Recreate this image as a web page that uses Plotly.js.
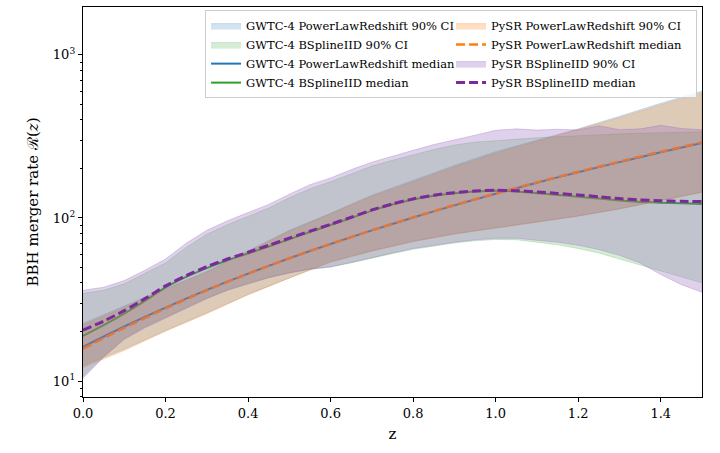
<!DOCTYPE html>
<html>
<head>
<meta charset="utf-8">
<script src="https://cdn.plot.ly/plotly-3.0.1.min.js"></script>
<style>
  html, body { margin: 0; padding: 0; background: #fff; }
  #chart { width: 720px; height: 453px; }
</style>
</head>
<body>
<div id="chart"></div>
<script>
// redshift grids
const zCoarse = [0.0, 0.1, 0.2, 0.3, 0.4, 0.5, 0.6, 0.7, 0.8, 0.9, 1.0, 1.1, 1.2, 1.3, 1.4, 1.5];
const zFine = [0.0, 0.05, 0.1, 0.15, 0.2, 0.25, 0.3, 0.35, 0.4, 0.45, 0.5, 0.55, 0.6, 0.65, 0.7, 0.75,
               0.8, 0.85, 0.9, 0.95, 1.0, 1.05, 1.1, 1.15, 1.2, 1.25, 1.3, 1.35, 1.4, 1.45, 1.5];

// GWTC-4 PowerLawRedshift (on zCoarse)
const gwtcPlLow = [12.4, 15.7, 20.4, 26.2, 34.0, 43.0, 54, 63, 72, 80, 87.5, 95, 103, 114, 128, 144.5];
const gwtcPlHigh = [22.5, 29, 37, 47, 63, 84, 107, 138, 170, 210, 255, 300, 352, 420, 505, 600];
const gwtcPlMed = [16.2, 21.6, 28.2, 36.2, 45.6, 56.6, 69.3, 83.9, 100.6, 119.5, 140.8, 164.6, 191, 220, 253, 288];

// PySR PowerLawRedshift (on zCoarse)
const pysrPlLow = [12.1, 15.4, 20.2, 25.9, 33.8, 42.8, 53.5, 62.5, 71.5, 79.5, 87, 94.5, 102.5, 113.5, 127.5, 143.5];
const pysrPlHigh = [22, 28.5, 36.5, 46.5, 62, 83, 106, 136, 167, 206, 250, 295, 346, 412, 495, 585];
const pysrPlMed = [15.8, 21.2, 27.9, 36.0, 45.5, 56.6, 69.4, 84.1, 100.9, 120, 141.4, 165.3, 192, 221.5, 255, 291];

// GWTC-4 BSplineIID (on zFine)
const gwtcBsLow = [10.7, 14.2, 18.2, 21.5, 24.8, 28.3, 32.3, 36.2, 39.8, 43.2, 46.2, 48.5, 50.2, 53, 56.5, 60.5,
                   64.2, 67.5, 70.3, 72.5, 73.8, 73.5, 71, 68.5, 65, 61, 56, 51, 47, 43.5, 40];
const gwtcBsHigh = [34.5, 36, 39.5, 45.5, 53, 66, 79.5, 91, 102.5, 115, 133, 151, 167, 187, 208, 226,
                    244, 263, 280, 292, 298, 305, 310, 315, 320, 325, 328, 331, 334, 336, 338];
const gwtcBsMed = [18.9, 22.0, 25.9, 31.0, 37.5, 43.5, 49.3, 55.0, 60.5, 66.8, 74.0, 82.0, 90.5, 100, 111, 121,
                   130, 137, 142, 145.5, 147, 145.5, 142, 138.5, 135, 131.5, 128, 125.5, 124, 123, 122];

// PySR BSplineIID (on zFine)
const pysrBsLow = [10.4, 14.0, 18.0, 21.2, 24.4, 28, 32, 36, 39.5, 43, 46, 48.5, 50, 53, 57, 61,
                   65, 68, 71, 73.5, 75, 75, 73, 71, 68, 64, 59, 53, 45, 39, 35];
const pysrBsHigh = [36, 37.6, 41.3, 47.8, 56, 70, 84, 96, 108, 121, 140, 160, 176, 198, 220, 240,
                    260, 282, 300, 322, 345, 352, 346, 350, 347, 368, 348, 352, 370, 354, 348];
const pysrBsMed = [20.5, 23.3, 27.0, 32.0, 38.3, 44.3, 50.3, 56.0, 61.6, 68.0, 75.2, 83.0, 91.5, 101, 112, 122,
                   131, 138, 143, 146.5, 148, 147, 144.5, 141.5, 138.5, 135, 131.5, 129, 127.5, 126.5, 126];

const yMajor = [10, 100, 1000];
const yMajorText = ["10<sup>1</sup>", "10<sup>2</sup>", "10<sup>3</sup>"];
const yMinor = [8, 9, 20, 30, 40, 50, 60, 70, 80, 90, 200, 300, 400, 500, 600, 700, 800, 900];

function band(z, lo, hi, rgb, alpha, name, rank) {
    return {
        x: z.concat(z.slice().reverse()),
        y: hi.concat(lo.slice().reverse()),
        type: "scatter",
        mode: "lines",
        fill: "toself",
        fillcolor: "rgba(" + rgb + "," + alpha + ")",
        line: { color: "rgba(" + rgb + "," + alpha + ")", width: 1 },
        name: name,
        legendrank: rank,
        hoverinfo: "skip"
    };
}

function median(z, y, color, width, dash, name, rank) {
    return {
        x: z,
        y: y,
        type: "scatter",
        mode: "lines",
        line: { color: color, width: width, dash: dash, shape: "spline", smoothing: 0.6 },
        name: name,
        legendrank: rank
    };
}

const blue = "31,119,180", green = "44,160,44", orange = "255,127,14", purple = "148,103,189";

let data = [
    band(zCoarse, gwtcPlLow, gwtcPlHigh, blue, 0.2, "GWTC-4 PowerLawRedshift 90% CI", 1),
    band(zFine, gwtcBsLow, gwtcBsHigh, green, 0.2, "GWTC-4 BSplineIID 90% CI", 3),
    median(zCoarse, gwtcPlMed, "#1f77b4", 2, "solid", "GWTC-4 PowerLawRedshift median", 5),
    median(zFine, gwtcBsMed, "#2ca02c", 2, "solid", "GWTC-4 BSplineIID median", 7),
    band(zCoarse, pysrPlLow, pysrPlHigh, orange, 0.25, "PySR PowerLawRedshift 90% CI", 2),
    median(zCoarse, pysrPlMed, "#ff7f0e", 2.5, "9px,4px", "PySR PowerLawRedshift median", 4),
    band(zFine, pysrBsLow, pysrBsHigh, purple, 0.3, "PySR BSplineIID 90% CI", 6),
    median(zFine, pysrBsMed, "#7b2a9e", 3, "9px,4px", "PySR BSplineIID median", 8)
];

const serif = "DejaVu Serif";

let layout = {
    width: 720,
    height: 453,
    margin: { l: 83, r: 18, t: 7, b: 56 },
    paper_bgcolor: "#fff",
    plot_bgcolor: "#fff",
    font: { family: serif, color: "#000" },
    showlegend: true,
    legend: {
        x: 0.992, y: 0.992, xanchor: "right", yanchor: "top",
        orientation: "h",
        entrywidth: 200,
        entrywidthmode: "pixels",
        bgcolor: "rgba(255,255,255,0.8)",
        bordercolor: "#cccccc",
        borderwidth: 1,
        font: { family: serif, size: 11.5, color: "#000" },
        traceorder: "normal"
    },
    xaxis: {
        range: [0, 1.5],
        tick0: 0, dtick: 0.2,
        tickformat: ".1f",
        ticks: "outside", ticklen: 4, tickwidth: 1, tickcolor: "#000",
        showline: true, linecolor: "#000", linewidth: 1.2, mirror: true,
        showgrid: false, zeroline: false,
        tickfont: { family: serif, size: 13 },
        title: { text: "z", font: { family: serif, size: 15 }, standoff: 8 }
    },
    yaxis: {
        type: "log",
        range: [0.902, 3.294],
        tickmode: "array",
        tickvals: yMajor,
        ticktext: yMajorText,
        ticks: "outside", ticklen: 4, tickwidth: 1, tickcolor: "#000",
        minor: { tickmode: "array", tickvals: yMinor, ticks: "outside", ticklen: 2, tickcolor: "#000", showgrid: false },
        showline: true, linecolor: "#000", linewidth: 1.2, mirror: true,
        showgrid: false, zeroline: false,
        tickfont: { family: serif, size: 13 },
        title: { text: "BBH merger rate \u211B(<i>z</i>)", font: { family: serif, size: 15 }, standoff: 10 }
    }
};

Plotly.newPlot("chart", data, layout, { displayModeBar: false, staticPlot: true });
</script>
</body>
</html>
